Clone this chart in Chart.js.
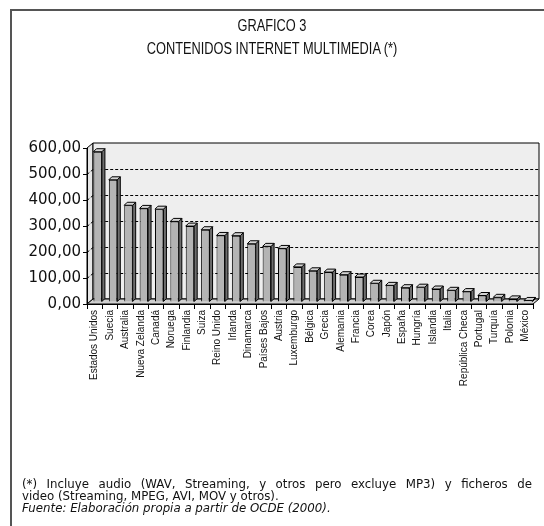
<!DOCTYPE html>
<html>
<head>
<meta charset="utf-8">
<script src="https://cdn.jsdelivr.net/npm/chart.js@4.4.0/dist/chart.umd.min.js"></script>
<style>
body { margin: 0; background: #fff; }
#wrap { position: relative; width: 544px; height: 526px; overflow: hidden; }
#frame { position: absolute; left: 10px; top: 9px; width: 540px; height: 530px; border-top: 2px solid #555; border-left: 2px solid #555; }
.t { position: absolute; left: 6px; width: 532px; text-align: center; font-family: "Liberation Sans", Arial, sans-serif; font-size: 16px; line-height: 16px; color: #111; transform: scaleX(0.8); transform-origin: 266px 0; }
#note { position: absolute; left: 22px; top: 479px; width: 510px; font-family: "DejaVu Sans", Verdana, sans-serif; font-size: 11.8px; line-height: 11.8px; color: #111; }
#note .l1 { text-align: justify; text-align-last: justify; }
canvas { position: absolute; left: 0; top: 0; }
</style>
</head>
<body>
<div id="wrap">
  <canvas id="myChart" width="544" height="526"></canvas>
  <div id="frame"></div>
  <div class="t" style="top:18px">GRAFICO 3</div>
  <div class="t" style="top:41px">CONTENIDOS INTERNET MULTIMEDIA (*)</div>
  <div id="note">
    <div class="l1">(*) Incluye audio (WAV, Streaming, y otros pero excluye MP3) y ficheros de</div>
    <div>video (Streaming, MPEG, AVI, MOV y otros).</div>
    <div><i>Fuente: Elaboración propia a partir de OCDE (2000).</i></div>
  </div>
</div>
<script>
// datos
paises = ['Estados Unidos', 'Suecia', 'Australia', 'Nueva Zelanda', 'Canadá', 'Noruega', 'Finlandia', 'Suiza',
    'Reino Unido', 'Irlanda', 'Dinamarca', 'Países Bajos', 'Austria', 'Luxemburgo', 'Bélgica', 'Grecia',
    'Alemania', 'Francia', 'Corea', 'Japón', 'España', 'Hungría', 'Islandia', 'Italia', 'República Checa',
    'Portugal', 'Turquía', 'Polonia', 'México'];
valores = [578, 470, 372, 360, 357, 310, 292, 278, 256, 255, 224, 214, 206, 135, 120, 115,
    105, 96, 72, 64, 55, 57, 50, 45, 40, 25, 18, 12, 6];
ticks_y = [0, 100, 200, 300, 400, 500, 600];

// profundidad del efecto 3D
const wall_dx = 6, wall_dy = -5;
const bar_dx = 3, bar_dy = -2;

function poly(ctx, pts, fill) {
    ctx.beginPath();
    ctx.moveTo(pts[0][0], pts[0][1]);
    for (let i = 1; i < pts.length; i++) ctx.lineTo(pts[i][0], pts[i][1]);
    ctx.closePath();
    ctx.fillStyle = fill;
    ctx.fill();
    ctx.stroke();
}

const walls3d = {
    id: 'walls3d',
    beforeDraw(chart) {
        const ctx = chart.ctx;
        const a = chart.chartArea;
        const L = a.left, R = a.right, T = a.top, B = a.bottom;
        ctx.save();
        ctx.strokeStyle = '#000';
        ctx.lineWidth = 1;
        // pared lateral, pared de fondo y suelo
        poly(ctx, [[L, T], [L + wall_dx, T + wall_dy], [L + wall_dx, B + wall_dy], [L, B]], '#e6e6e6');
        poly(ctx, [[L + wall_dx, T + wall_dy], [R + wall_dx, T + wall_dy], [R + wall_dx, B + wall_dy], [L + wall_dx, B + wall_dy]], '#eeeeee');
        poly(ctx, [[L, B], [L + wall_dx, B + wall_dy], [R + wall_dx, B + wall_dy], [R, B]], '#cfcfcf');
        // lineas de division punteadas
        const y = chart.scales.y;
        ctx.setLineDash([3, 2]);
        ticks_y.forEach((v) => {
            if (v == 0 || v == 600) return;
            const py = Math.round(y.getPixelForValue(v)) + 0.5;
            ctx.beginPath();
            ctx.moveTo(L, py);
            ctx.lineTo(L + wall_dx, py + wall_dy);
            ctx.lineTo(R + wall_dx, py + wall_dy);
            ctx.stroke();
        });
        ctx.restore();
    },
    beforeDatasetsDraw(chart) {
        chart.ctx.save();
        chart.ctx.translate(bar_dx, bar_dy);
    },
    afterDatasetsDraw(chart) {
        const ctx = chart.ctx;
        ctx.strokeStyle = '#000';
        ctx.lineWidth = 1;
        chart.getDatasetMeta(0).data.forEach((bar) => {
            const l = bar.x - bar.width / 2, r = bar.x + bar.width / 2;
            const t = bar.y, b = bar.base;
            poly(ctx, [[r, t], [r + 3, t - 3], [r + 3, b - 3], [r, b]], '#6e6e6e');
            poly(ctx, [[l, t], [l + 3, t - 3], [r + 3, t - 3], [r, t]], '#d4d4d4');
        });
        ctx.restore();
    }
};

const ctx = document.getElementById('myChart');
const data = {
    labels: paises,
    datasets: [{
        label: null,
        data: valores,
        backgroundColor: '#b4b4b4',
        borderColor: '#000',
        borderWidth: 1,
        barPercentage: 0.55,
        categoryPercentage: 1,
        clip: false
    }]
};

const config = {
    type: 'bar',
    data: data,
    options: {
        responsive: false,
        animation: false,
        layout: {
            padding: { top: 148, right: 11, left: 0, bottom: 0 }
        },
        scales: {
            y: {
                min: 0,
                max: 600,
                afterFit: (scale) => { scale.width = 87 },
                afterBuildTicks: (scale) => { scale.ticks = ticks_y.map((v) => ({ value: v })) },
                ticks: {
                    padding: 2,
                    color: '#111',
                    font: { family: 'DejaVu Sans', size: 15 },
                    callback: (v) => v.toFixed(2).replace('.', ',')
                },
                grid: { drawOnChartArea: false, tickLength: 4, color: '#000' },
                border: { color: '#000', width: 1 }
            },
            x: {
                afterFit: (scale) => { scale.height = 222 },
                ticks: {
                    autoSkip: false,
                    minRotation: 90,
                    maxRotation: 90,
                    padding: 1,
                    color: '#111',
                    font: { family: 'Liberation Sans', size: 10 }
                },
                grid: { offset: true, drawOnChartArea: false, tickLength: 5, color: '#000' },
                border: { color: '#000', width: 1 }
            }
        },
        plugins: {
            legend: { display: false },
            tooltip: { enabled: false }
        }
    },
    plugins: [walls3d]
};

chart = new Chart(ctx, config);
</script>
</body>
</html>
